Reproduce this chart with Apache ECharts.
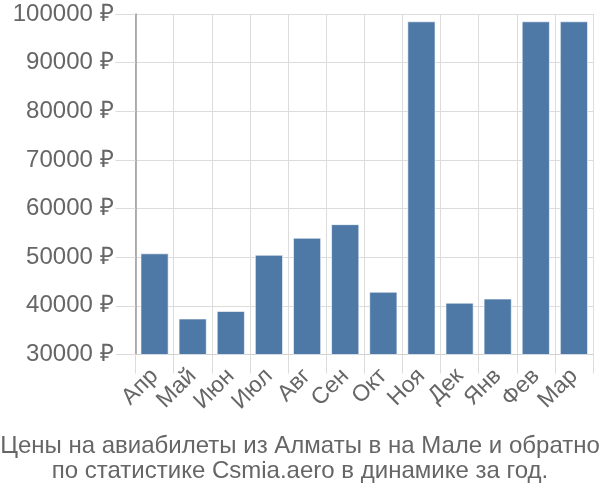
<!DOCTYPE html>
<html>
<head>
<meta charset="utf-8">
<script src="https://cdn.jsdelivr.net/npm/echarts@6/dist/echarts.min.js"></script>
<style>html,body{margin:0;padding:0;background:#fff}#c{width:600px;height:500px}</style>
</head>
<body>
<div id="c"></div>
<script>
var categories = ['Апр','Май','Июн','Июл','Авг','Сен','Окт','Ноя','Дек','Янв','Фев','Мар'];
var prices = [50800, 37400, 38950, 50500, 54000, 56800, 42900, 98500, 40650, 41500, 98500, 98500];
var yTicks = [30000, 40000, 50000, 60000, 70000, 80000, 90000, 100000];
var titleText = 'Цены на авиабилеты из Алматы в на Мале и обратно\nпо статистике Csmia.aero в динамике за год.';

var chart = echarts.init(document.getElementById('c'), null, {renderer: 'canvas'});
chart.setOption({
  animation: false,
  backgroundColor: '#fff',
  textStyle: {fontFamily: 'Liberation Sans, Arial, sans-serif'},
  title: {
    text: titleText,
    left: 'center',
    top: 434,
    padding: 0,
    textStyle: {fontSize: 24, fontWeight: 'normal', color: '#666', lineHeight: 25, align: 'center', fontFamily: 'Liberation Sans, Arial, sans-serif'}
  },
  grid: {left: 135.5, right: 7, top: 14, bottom: 145.5, containLabel: false},
  xAxis: {
    type: 'category',
    data: categories,
    boundaryGap: true,
    axisLine: {show: true, lineStyle: {color: '#d0d0d0', width: 1}},
    axisTick: {show: true, alignWithLabel: false, interval: 0, length: 19, lineStyle: {color: '#dcdcdc'}},
    splitLine: {show: true, interval: 0, lineStyle: {color: '#dcdcdc', width: 1}},
    axisLabel: {rotate: 45, interval: 0, fontSize: 23, color: '#666', margin: 18}
  },
  yAxis: {
    type: 'value',
    min: yTicks[0],
    max: yTicks[yTicks.length - 1],
    interval: 10000,
    axisLine: {show: true, lineStyle: {color: '#999', width: 1.5}},
    axisTick: {show: true, length: 20, lineStyle: {color: '#dcdcdc'}},
    splitLine: {show: true, lineStyle: {color: '#dcdcdc', width: 1}},
    axisLabel: {fontSize: 24, color: '#666', margin: 22, formatter: function (v) { return v + ' ₽'; }}
  },
  series: [{
    type: 'bar',
    data: prices,
    barCategoryGap: '26%',
    itemStyle: {color: '#4e79a7', borderColor: 'rgba(255,255,255,0.6)', borderWidth: 1}
  }]
});
</script>
</body>
</html>
